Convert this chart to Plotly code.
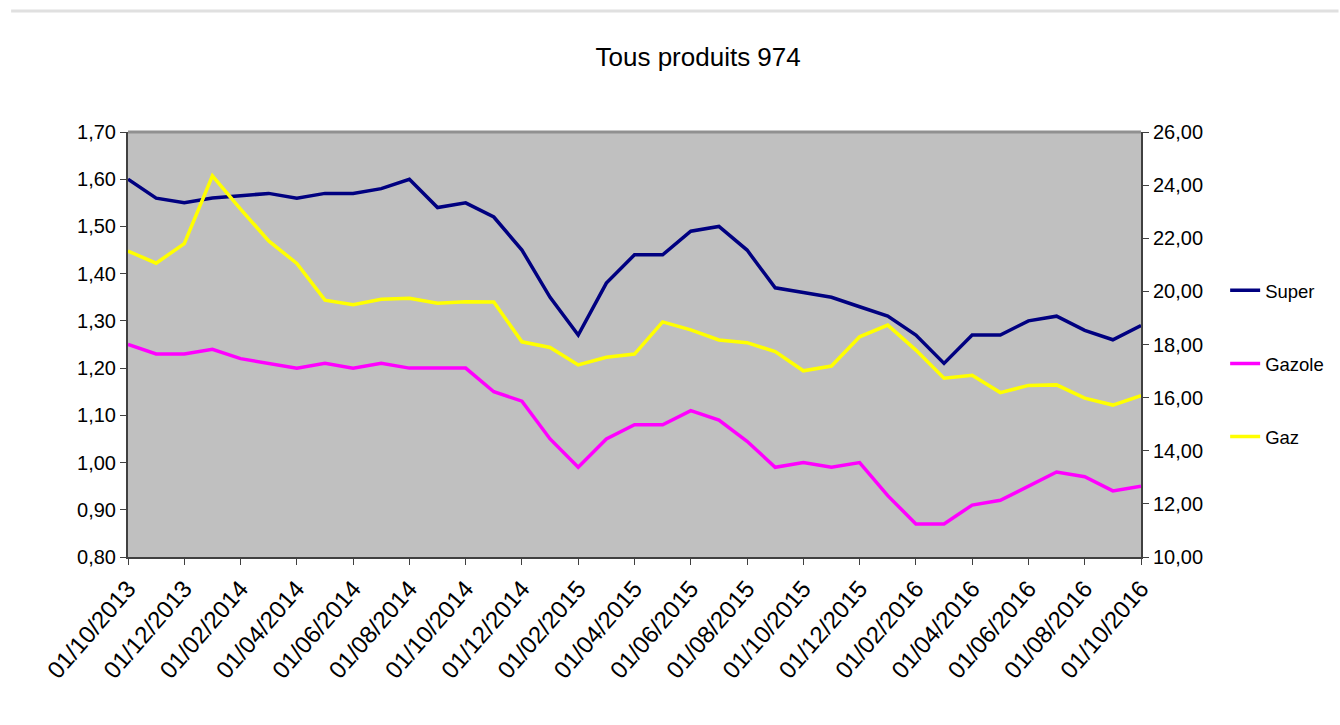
import plotly.graph_objects as go

dates = ["01/10/2013", "01/11/2013", "01/12/2013", "01/01/2014", "01/02/2014", "01/03/2014",
         "01/04/2014", "01/05/2014", "01/06/2014", "01/07/2014", "01/08/2014", "01/09/2014",
         "01/10/2014", "01/11/2014", "01/12/2014", "01/01/2015", "01/02/2015", "01/03/2015",
         "01/04/2015", "01/05/2015", "01/06/2015", "01/07/2015", "01/08/2015", "01/09/2015",
         "01/10/2015", "01/11/2015", "01/12/2015", "01/01/2016", "01/02/2016", "01/03/2016",
         "01/04/2016", "01/05/2016", "01/06/2016", "01/07/2016", "01/08/2016", "01/09/2016",
         "01/10/2016"]

super_vals = [1.60, 1.56, 1.55, 1.56, 1.565, 1.57, 1.56, 1.57, 1.57, 1.58, 1.60, 1.54,
              1.55, 1.52, 1.45, 1.35, 1.27, 1.38, 1.44, 1.44, 1.49, 1.50, 1.45, 1.37,
              1.36, 1.35, 1.33, 1.31, 1.27, 1.21, 1.27, 1.27, 1.30, 1.31, 1.28, 1.26, 1.29]

gazole_vals = [1.25, 1.23, 1.23, 1.24, 1.22, 1.21, 1.20, 1.21, 1.20, 1.21, 1.20, 1.20,
               1.20, 1.15, 1.13, 1.05, 0.99, 1.05, 1.08, 1.08, 1.11, 1.09, 1.045, 0.99,
               1.00, 0.99, 1.00, 0.93, 0.87, 0.87, 0.91, 0.92, 0.95, 0.98, 0.97, 0.94, 0.95]

gaz_vals = [21.52, 21.06, 21.8, 24.35, 23.1, 21.9, 21.05, 19.67, 19.5, 19.7, 19.74, 19.55,
            19.61, 19.6, 18.1, 17.89, 17.23, 17.52, 17.64, 18.85, 18.55, 18.17, 18.07, 17.73,
            17.01, 17.19, 18.29, 18.73, 17.79, 16.73, 16.84, 16.19, 16.46, 16.48, 15.98, 15.72, 16.07]

tick_labels = dates[::2]

font_family = "Arial, Liberation Sans, sans-serif"

fig = go.Figure()
fig.add_trace(go.Scatter(x=dates, y=super_vals, name="Super", mode="lines",
                         line=dict(color="#000080", width=3.5), legendgroup="a"))
fig.add_trace(go.Scatter(x=dates, y=gazole_vals, name="Gazole", mode="lines",
                         line=dict(color="#ff00ff", width=3.5), legendgroup="b"))
fig.add_trace(go.Scatter(x=dates, y=gaz_vals, name="Gaz", mode="lines", yaxis="y2",
                         line=dict(color="#ffff00", width=3.5), legendgroup="c"))

fig.update_layout(
    width=1340, height=725,
    margin=dict(l=128, r=198, t=132, b=168),
    paper_bgcolor="white",
    plot_bgcolor="#c0c0c0",
    separators=", ",
    font=dict(family=font_family, color="black", size=19),
    title=dict(text="Tous produits 974", x=0.521, xanchor="center", y=0.921, yanchor="middle",
               font=dict(size=26, family=font_family, color="black")),
    xaxis=dict(type="category", range=[0, 36], tickmode="array", tickvals=tick_labels,
               ticktext=tick_labels, tickangle=-49, ticks="outside", ticklen=6,
               tickcolor="#404040", showgrid=False, showline=True, linecolor="#404040",
               linewidth=2, zeroline=False, tickfont=dict(size=24)),
    yaxis=dict(range=[0.8, 1.7], dtick=0.1, tickformat=".2f", ticks="outside", ticklen=6,
               tickcolor="#404040", showgrid=False, showline=True, linecolor="#404040",
               linewidth=2, zeroline=False, tickfont=dict(size=20)),
    yaxis2=dict(range=[10, 26], dtick=2, tickformat=".2f", overlaying="y", side="right",
                ticks="outside", ticklen=6, tickcolor="#404040", showgrid=False,
                showline=True, linecolor="#404040", linewidth=2, zeroline=False,
                tickfont=dict(size=20)),
    legend=dict(x=1.082, y=0.671, xanchor="left", yanchor="top", tracegroupgap=46,
                bgcolor="rgba(0,0,0,0)", font=dict(size=18.5), itemwidth=30),
    shapes=[
        dict(type="line", xref="paper", yref="paper", x0=0, x1=1, y0=1, y1=1,
             line=dict(color="#909090", width=3)),
        dict(type="line", xref="paper", yref="paper", x0=-0.1154, x1=1.195, y0=1.2847, y1=1.2847,
             line=dict(color="#e0e0e0", width=3)),
    ],
)

fig.write_html("out.html", config={"displayModeBar": False},
               post_script="document.body.style.margin='0';document.body.style.overflow='hidden';")
